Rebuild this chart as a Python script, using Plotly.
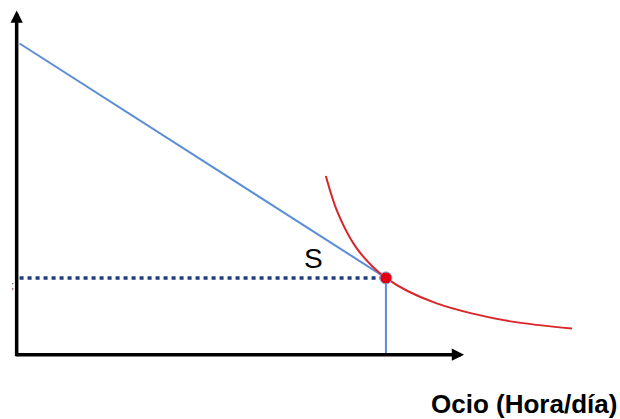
import plotly.graph_objects as go

# Budget line (blue)
budget_x = [0.5, 63.3]
budget_y = [90.4, 22.3]

# Optimum point S
opt_x = [63.3]
opt_y = [22.3]

# Indifference curve (red)
curve_x = [53.0, 55.0, 58.0, 61.0, 63.3, 67.0, 72.0, 78.0, 85.0, 95.2]
curve_y = [51.9, 41.4, 31.6, 25.6, 22.3, 18.5, 14.9, 12.0, 9.6, 7.6]

# Axes extents
x_axis_end = 76.7
y_axis_end = 100.0

label_s = "S"
x_label = "Ocio (Hora/día)"

fig = go.Figure()

# dotted horizontal guide
fig.add_trace(go.Scatter(x=[budget_x[0], opt_x[0] - 1.0], y=[opt_y[0], opt_y[0]],
                         mode="lines", line=dict(color="#1f3d7a", width=3.5, dash="4px,4px"),
                         hoverinfo="skip"))
# vertical blue guide
fig.add_trace(go.Scatter(x=[opt_x[0], opt_x[0]], y=[opt_y[0], 0],
                         mode="lines", line=dict(color="#5b8dd9", width=2),
                         hoverinfo="skip"))
# budget line
fig.add_trace(go.Scatter(x=budget_x, y=budget_y, mode="lines",
                         line=dict(color="#5b8dd9", width=2), hoverinfo="skip"))
# indifference curve
fig.add_trace(go.Scatter(x=curve_x, y=curve_y, mode="lines",
                         line=dict(color="#d8262b", width=2, shape="spline", smoothing=1.0),
                         hoverinfo="skip"))
# optimum point
fig.add_trace(go.Scatter(x=opt_x, y=opt_y, mode="markers",
                         marker=dict(color="#e3000f", size=12, line=dict(color="#7fa2e0", width=1)),
                         hoverinfo="skip"))

# axes arrows
fig.add_annotation(x=x_axis_end, y=0, ax=-0.3, ay=0, xref="x", yref="y", axref="x", ayref="y",
                   text="", showarrow=True, arrowhead=2, arrowsize=0.7, arrowwidth=3.5,
                   arrowcolor="#000000", standoff=0, startstandoff=0)
fig.add_annotation(x=0, y=y_axis_end, ax=0, ay=-0.9, xref="x", yref="y", axref="x", ayref="y",
                   text="", showarrow=True, arrowhead=2, arrowsize=0.7, arrowwidth=3.5,
                   arrowcolor="#000000", standoff=0, startstandoff=0)

# S label
fig.add_annotation(x=50.9, y=27.8, xref="x", yref="y", text=label_s, showarrow=False,
                   font=dict(family="Liberation Sans, Arial", size=28, color="#000000"))

# x-axis label
fig.add_annotation(x=1.032, y=-0.109, xref="paper", yref="paper", text="<b>" + x_label + "</b>",
                   showarrow=False, xanchor="right", yanchor="middle",
                   font=dict(family="Liberation Sans, Arial", size=26, color="#000000"))

# small stray mark at left
fig.add_annotation(x=0.006, y=0.2, xref="paper", yref="paper", text=";", showarrow=False,
                   font=dict(family="Liberation Sans, Arial", size=11, color="#555555"))

fig.update_layout(
    width=620, height=419,
    margin=dict(l=5, r=20, t=7, b=54),
    paper_bgcolor="white", plot_bgcolor="white",
    showlegend=False,
    xaxis=dict(range=[-2, 100], visible=False, fixedrange=True),
    yaxis=dict(range=[-3, 101], visible=False, fixedrange=True),
)

fig.write_html("out.html", config={"displayModeBar": False},
               post_script="document.body.style.margin='0';document.body.style.overflow='hidden';")
